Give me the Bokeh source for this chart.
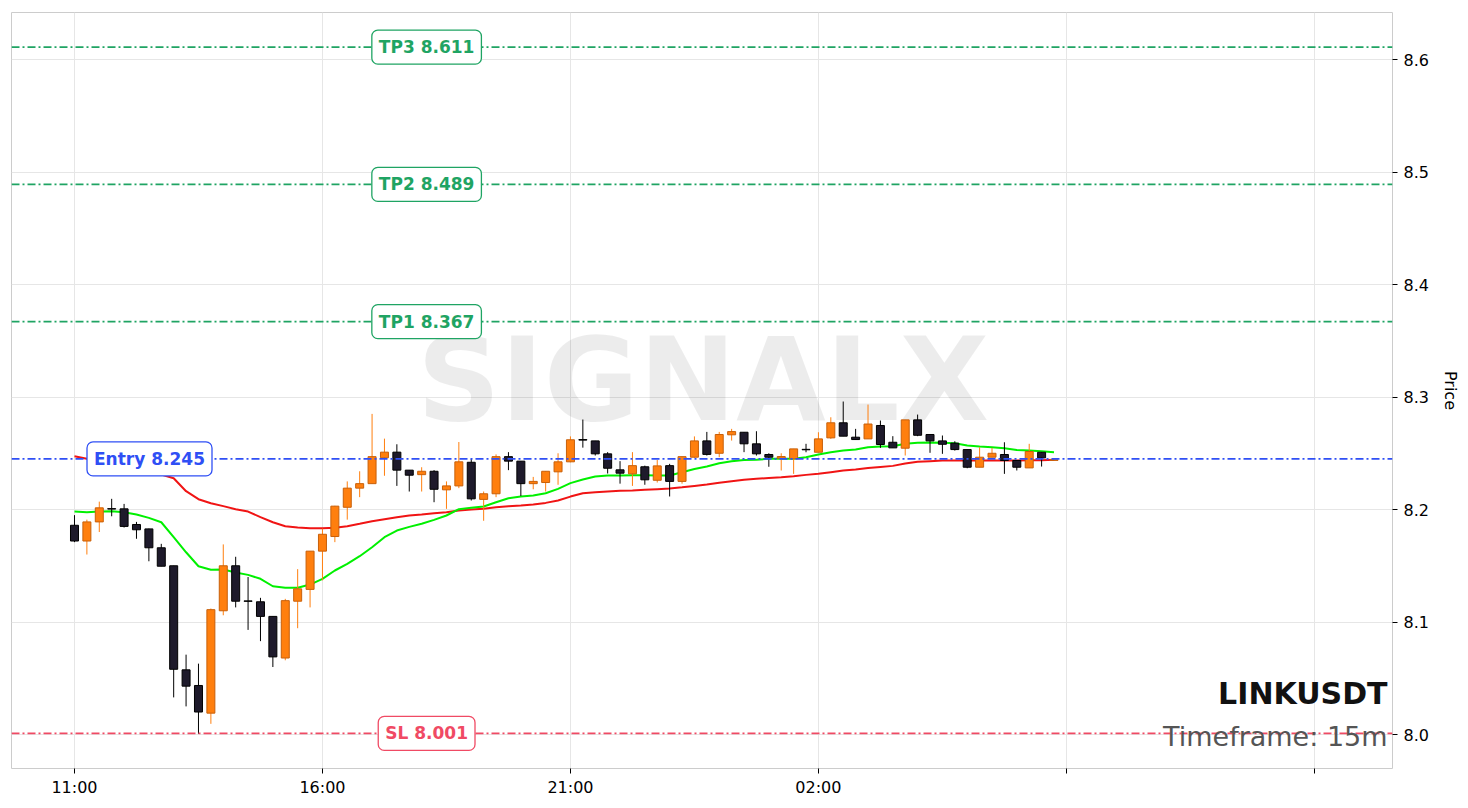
import numpy as np
import pandas as pd
from bokeh.plotting import figure
from bokeh.models import Span, Label, FixedTicker, Range1d, ColumnDataSource
from bokeh.core.properties import value
from bokeh.embed import file_html
from bokeh.resources import INLINE

# ---------------- data ----------------
symbol = "LINKUSDT"
timeframe = "15m"
start_time = "2024-03-04 11:00"

open_ = [8.186, 8.172, 8.189, 8.2008, 8.2006, 8.1867, 8.1828, 8.166, 8.150, 8.0575,
         8.0436, 8.019, 8.110, 8.150, 8.1188, 8.118, 8.105, 8.068, 8.1185, 8.129,
         8.163, 8.176, 8.202, 8.219, 8.223, 8.246, 8.251, 8.235, 8.231, 8.234,
         8.2175, 8.221, 8.242, 8.209, 8.214, 8.247, 8.243, 8.223, 8.224, 8.2335,
         8.2424, 8.2622, 8.261, 8.2495, 8.2353, 8.2317, 8.238, 8.226, 8.239, 8.225,
         8.2465, 8.261, 8.250, 8.2664, 8.2687, 8.2584, 8.2489, 8.2456, 8.2451, 8.2535,
         8.2509, 8.2637, 8.2771, 8.2643, 8.2628, 8.2747, 8.2598, 8.2545, 8.2797, 8.2667,
         8.261, 8.259, 8.2533, 8.2376, 8.2465, 8.2489, 8.2436, 8.237, 8.2509, 8.2437]
high = [8.195, 8.191, 8.207, 8.2095, 8.205, 8.189, 8.183, 8.1695, 8.150, 8.071,
        8.063, 8.112, 8.169, 8.158, 8.140, 8.1215, 8.105, 8.1206, 8.147, 8.163,
        8.183, 8.2033, 8.225, 8.234, 8.285, 8.263, 8.258, 8.235, 8.2376, 8.235,
        8.225, 8.260, 8.245, 8.216, 8.249, 8.251, 8.243, 8.229, 8.234, 8.250,
        8.265, 8.280, 8.261, 8.251, 8.243, 8.251, 8.239, 8.244, 8.2406, 8.247,
        8.265, 8.269, 8.269, 8.2717, 8.2687, 8.2696, 8.250, 8.250, 8.2539, 8.2584,
        8.2687, 8.282, 8.296, 8.2717, 8.2933, 8.2791, 8.2652, 8.2797, 8.2844, 8.2667,
        8.2658, 8.2607, 8.2533, 8.2554, 8.2548, 8.2598, 8.2436, 8.2584, 8.2509, 8.2447]
low = [8.171, 8.160, 8.180, 8.194, 8.184, 8.174, 8.154, 8.1496, 8.033, 8.025,
       8.0006, 8.0095, 8.106, 8.113, 8.093, 8.083, 8.060, 8.066, 8.0945, 8.113,
       8.137, 8.171, 8.191, 8.211, 8.223, 8.230, 8.221, 8.216, 8.216, 8.2065,
       8.2006, 8.219, 8.208, 8.190, 8.211, 8.235, 8.212, 8.218, 8.216, 8.222,
       8.242, 8.255, 8.248, 8.232, 8.223, 8.221, 8.222, 8.224, 8.2116, 8.223,
       8.246, 8.248, 8.2465, 8.2613, 8.251, 8.248, 8.238, 8.2347, 8.2317, 8.2509,
       8.2509, 8.2628, 8.2652, 8.2622, 8.2628, 8.2548, 8.2548, 8.248, 8.2652, 8.2504,
       8.2495, 8.2524, 8.2367, 8.2376, 8.2465, 8.2317, 8.2347, 8.237, 8.2382, 8.2433]
close = [8.172, 8.189, 8.2015, 8.2004, 8.185, 8.182, 8.166, 8.1496, 8.058, 8.043,
         8.020, 8.111, 8.150, 8.1185, 8.1184, 8.105, 8.069, 8.119, 8.1295, 8.163,
         8.178, 8.203, 8.219, 8.223, 8.247, 8.251, 8.235, 8.2305, 8.234, 8.218,
         8.221, 8.2424, 8.2095, 8.214, 8.247, 8.243, 8.223, 8.225, 8.234, 8.2424,
         8.262, 8.2617, 8.2495, 8.2367, 8.2323, 8.239, 8.2264, 8.2388, 8.225, 8.247,
         8.261, 8.249, 8.2667, 8.2693, 8.2584, 8.2495, 8.2465, 8.2471, 8.2539, 8.2531,
         8.2628, 8.2771, 8.2652, 8.2622, 8.276, 8.2578, 8.2548, 8.2797, 8.266, 8.261,
         8.258, 8.2533, 8.2376, 8.2465, 8.250, 8.2436, 8.2376, 8.2516, 8.2459, 8.2442]

ema_fast = [8.1982, 8.1976, 8.1982, 8.1985, 8.1976, 8.1956, 8.1926, 8.1887, 8.1754, 8.1620,
            8.1496, 8.1464, 8.1467, 8.1440, 8.1419, 8.1384, 8.1318, 8.1304, 8.1304, 8.1333,
            8.1384, 8.1458, 8.1517, 8.1585, 8.1665, 8.1754, 8.1813, 8.1846, 8.1873, 8.1908,
            8.1947, 8.2003, 8.2015, 8.2027, 8.2065, 8.2100, 8.2116, 8.2124, 8.2145, 8.2184,
            8.2235, 8.2267, 8.2293, 8.2302, 8.2302, 8.2305, 8.2305, 8.2302, 8.2302, 8.2332,
            8.2361, 8.2382, 8.2412, 8.2430, 8.2440, 8.2442, 8.2451, 8.2451, 8.2451, 8.2465,
            8.2489, 8.2509, 8.2524, 8.2533, 8.2554, 8.2560, 8.2562, 8.2584, 8.2593, 8.2596,
            8.2593, 8.2590, 8.2569, 8.2560, 8.2554, 8.2545, 8.2530, 8.2524, 8.2518, 8.2509]
ema_slow = [8.2474, 8.2451, 8.2436, 8.2418, 8.2396, 8.2373, 8.2347, 8.2311, 8.2278, 8.2163,
            8.2092, 8.2056, 8.2030, 8.2003, 8.1982, 8.1932, 8.1887, 8.1852, 8.1840, 8.1834,
            8.1834, 8.1837, 8.1852, 8.1873, 8.1896, 8.1914, 8.1932, 8.1947, 8.1956, 8.1967,
            8.1976, 8.1991, 8.2000, 8.2006, 8.2021, 8.2030, 8.2036, 8.2044, 8.2059, 8.2080,
            8.2115, 8.2145, 8.2154, 8.2160, 8.2166, 8.2169, 8.2175, 8.2181, 8.2187, 8.2198,
            8.2210, 8.2222, 8.2237, 8.2252, 8.2265, 8.2273, 8.2281, 8.2287, 8.2296, 8.2308,
            8.2317, 8.2332, 8.2347, 8.2356, 8.2370, 8.2379, 8.2388, 8.2409, 8.2424, 8.2430,
            8.2436, 8.2436, 8.2436, 8.2436, 8.2436, 8.2436, 8.2436, 8.2439, 8.2439, 8.2442]

entry_price = 8.245
sl_price = 8.001
tp_names = ["TP1", "TP2", "TP3"]
tp_prices = [8.367, 8.489, 8.611]

tick_hours = ["11:00", "16:00", "21:00", "02:00", "", ""]
price_ticks = [8.0, 8.1, 8.2, 8.3, 8.4, 8.5, 8.6]

# ---------------- build ----------------
step_ms = 15 * 60 * 1000
times = pd.date_range(start_time, periods=len(open_), freq="15min")
t_ms = (times.astype("int64") // 10**6).to_numpy().astype(float)
t0 = t_ms[0]

def tx(idx):
    return t0 + idx * step_ms

o = np.array(open_); h = np.array(high); l = np.array(low); c = np.array(close)
bull = c >= o
src = ColumnDataSource(dict(
    x=t_ms, top=np.maximum(o, c), bottom=np.minimum(o, c), high=h, low=l,
    fill=np.where(bull, "#ff7f0e", "#1e1a2b"),
    edge=np.where(bull, "#c8600a", "#000000"),
    wick=np.where(bull, "#ff7f0e", "#000000"),
))

x_start, x_end = tx(-5.08), tx(106.3)
p = figure(x_axis_type="datetime", y_axis_location="right",
           frame_width=1381, frame_height=756,
           x_range=Range1d(x_start, x_end), y_range=Range1d(7.9698, 8.6418),
           output_backend="svg", toolbar_location=None,
           min_border_left=11, min_border_top=12, min_border_right=4, min_border_bottom=4)
p.background_fill_color = "white"
p.outline_line_color = "#cccccc"

# watermark
p.text(x=[tx(50.7)], y=[8.3155], text=["SIGNALX"], text_align="center",
       text_baseline="alphabetic", text_font=value("DejaVu Sans"),
       text_font_style="bold", text_font_size=value("116px"),
       text_color="#000000", text_alpha=0.075)

# EMAs
p.line(t_ms, ema_slow, line_color="#f01414", line_width=2)
p.line(t_ms, ema_fast, line_color="#00f000", line_width=2)

# candles
p.segment(x0="x", y0="low", x1="x", y1="high", line_color="wick", line_width=1, source=src)
p.vbar(x="x", width=0.645 * step_ms, top="top", bottom="bottom",
       fill_color="fill", line_color="edge", line_width=1, source=src)

dash = "8 3 2 3"
tp_color = "#1fa463"
entry_color = "#2f4ff5"
sl_color = "#f04a64"

def add_level(price, color, text, idx):
    p.add_layout(Span(location=price, dimension="width", line_color=color,
                      line_dash=dash, line_width=1.6))
    p.add_layout(Label(x=tx(idx), y=price, text=text, text_align="center",
                       text_baseline="middle", text_color=color,
                       text_font="DejaVu Sans", text_font_style="bold",
                       text_font_size="17px", background_fill_color="white",
                       border_line_color=color, border_line_width=1.3,
                       padding=7, border_radius=6))

for name, pr in zip(tp_names, tp_prices):
    add_level(pr, tp_color, f"{name} {pr:.3f}", 28.4)
add_level(entry_price, entry_color, f"Entry {entry_price:.3f}", 6.05)
add_level(sl_price, sl_color, f"SL {sl_price:.3f}", 28.4)

p.add_layout(Label(x=tx(105.9), y=8.0365, text=symbol, text_align="right",
                   text_baseline="alphabetic", text_color="#111111",
                   text_font="DejaVu Sans", text_font_style="bold",
                   text_font_size="30px"))
p.add_layout(Label(x=tx(105.9), y=7.9982, text=f"Timeframe: {timeframe}",
                   text_align="right", text_baseline="alphabetic",
                   text_color="#555555", text_font="DejaVu Sans",
                   text_font_size="27px"))

# axes
tick_ms = [t0 + k * 5 * 3600 * 1000 for k in range(len(tick_hours))]
p.xaxis.ticker = FixedTicker(ticks=tick_ms)
p.xaxis.major_label_overrides = {int(t): lab for t, lab in zip(tick_ms, tick_hours)}
p.yaxis.ticker = FixedTicker(ticks=price_ticks)
p.yaxis.major_label_overrides = {v: f"{v:.1f}" for v in price_ticks}
p.yaxis.axis_label = "Price"

for ax in (p.xaxis[0], p.yaxis[0]):
    ax.axis_line_color = None
    ax.major_tick_line_color = "#000000"
    ax.major_tick_in = 0
    ax.major_tick_out = 5
    ax.minor_tick_line_color = None
    ax.major_label_text_font = "DejaVu Sans"
    ax.major_label_text_font_size = "16px"
    ax.major_label_text_color = "#000000"
    ax.axis_label_text_font = "DejaVu Sans"
    ax.axis_label_text_font_size = "16px"
    ax.axis_label_text_font_style = "normal"
    ax.axis_label_text_color = "#000000"
p.xaxis.major_label_standoff = 4
p.yaxis.major_label_standoff = 6
p.yaxis.axis_label_standoff = 9

p.xgrid.grid_line_color = "#e6e6e6"
p.ygrid.grid_line_color = "#e6e6e6"

open("out.html", "w").write(file_html(p, INLINE))
